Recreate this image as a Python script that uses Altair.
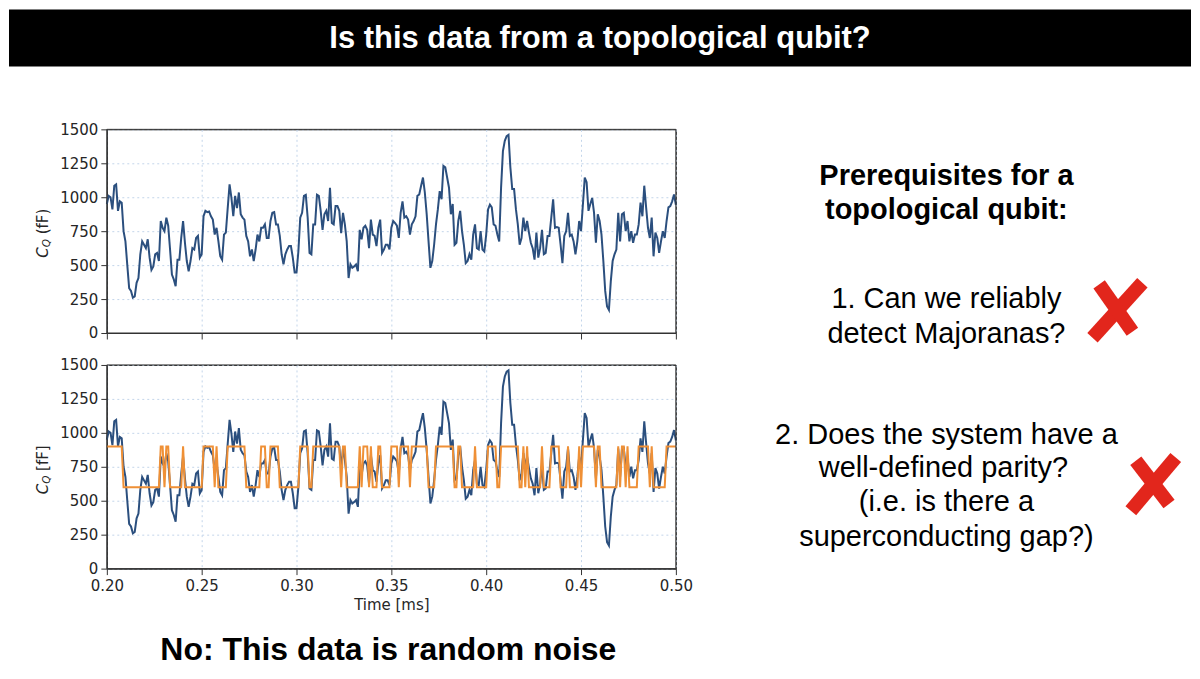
import altair as alt
import pandas as pd

# ---------------- data ----------------
cq_measured = [
    950, 1010, 1000, 910, 1085, 1095, 900, 970, 960, 750,
    675, 500, 330, 310, 260, 270, 370, 405, 580, 675,
    650, 625, 690, 555, 465, 490, 580, 590, 530, 825,
    775, 750, 850, 790, 615, 430, 395, 345, 540, 540,
    700, 825, 665, 530, 455, 530, 625, 615, 700, 715,
    555, 580, 860, 900, 890, 895, 860, 835, 725, 775,
    675, 565, 540, 725, 740, 920, 1095, 995, 860, 1010,
    920, 1035, 875, 850, 835, 715, 675, 565, 615, 530,
    615, 725, 675, 775, 775, 800, 700, 700, 825, 885,
    890, 800, 800, 715, 580, 505, 580, 615, 640, 640,
    555, 445,
    445, 600, 850, 885, 1010, 1018, 850, 590, 580, 800,
    800, 1018, 1010, 900, 760, 875, 900, 825, 1070, 810,
    800, 935, 935, 900, 735, 885, 800, 675, 405, 505,
    480, 490, 505, 455, 760, 690, 775, 790, 760, 625,
    835, 725, 715, 640, 775, 835, 590, 615, 650, 650,
    615, 775, 825, 810, 790, 700, 885, 970, 850, 860,
    835, 725, 800, 825, 860, 1010, 1020, 1085, 1145, 1035,
    875, 675, 480, 530, 650, 800, 910, 1045, 985, 1230,
    1220, 1145, 1070, 875, 950, 650, 665, 825, 900, 750,
    650, 515, 530, 580, 540, 725, 800, 625, 615, 750,
    615, 600, 725, 910,
    945, 925, 800, 790, 725, 675, 1070, 1340, 1415, 1450,
    1460, 1220, 1060, 1060, 910, 800, 650, 700, 850, 750,
    825, 740, 665, 625, 540, 740, 555, 625, 760, 580,
    590, 715, 715, 850, 985, 775, 780, 775, 650, 515,
    715, 750, 885, 715, 725, 675, 580, 675, 825, 750,
    945, 1145, 1110, 900, 950, 995, 885, 665, 875, 825,
    725, 530, 310, 195, 170, 380, 530, 580, 615, 885,
    675, 875, 885, 750, 825, 675, 750, 665, 725, 725,
    800, 960, 860, 1085, 925, 775, 700, 850, 565, 740,
    700, 590, 675, 750, 700, 825, 925, 935, 970, 1020,
    945,
]

cq_two_level = [
    900, 900, 900, 900, 900, 900, 900, 900, 900, 600,
    600, 600, 600, 600, 600, 600, 600, 600, 600, 600,
    600, 600, 600, 600, 600, 600, 600, 600, 600, 900,
    900, 600, 900, 900, 600, 600, 600, 600, 600, 600,
    600, 900, 600, 600, 600, 600, 600, 600, 600, 600,
    600, 600, 900, 900, 900, 900, 900, 900, 600, 900,
    600, 600, 600, 600, 600, 900, 900, 900, 900, 900,
    900, 900, 900, 900, 900, 600, 600, 600, 600, 600,
    600, 600, 600, 900, 900, 900, 600, 600, 900, 900,
    900, 900, 900, 600, 600, 600, 600, 600, 600, 600,
    600, 600, 600, 600, 900, 900, 900, 900, 900, 600,
    600, 900, 900, 900, 900, 900, 900, 900, 900, 900,
    900, 900, 900, 900, 900, 900, 600, 900, 900, 600,
    600, 600, 600, 600, 600, 600, 900, 600, 900, 900,
    900, 600, 900, 600, 600, 600, 900, 900, 600, 600,
    600, 600, 600, 900, 900, 900, 900, 600, 900, 900,
    900, 900, 900, 600, 900, 900, 900, 900, 900, 900,
    900, 900, 900, 600, 600, 600, 600, 900, 900, 900,
    900, 900, 900, 900, 900, 900, 900, 600, 600, 900,
    900, 600, 600, 600, 600, 600, 600, 600, 900, 600,
    600, 600, 600, 600, 600, 900, 900, 900, 900, 900,
    600, 600, 900, 900, 900, 900, 900, 900, 900, 900,
    900, 900, 600, 600, 900, 600, 900, 600, 600, 600,
    600, 600, 600, 600, 900, 600, 600, 600, 600, 900,
    900, 900, 900, 900, 600, 600, 600, 600, 900, 600,
    600, 600, 600, 600, 900, 600, 900, 900, 900, 900,
    900, 900, 900, 600, 900, 900, 600, 600, 600, 600,
    600, 600, 600, 600, 600, 900, 600, 900, 900, 600,
    900, 600, 600, 600, 600, 600, 900, 900, 900, 900,
    900, 900, 600, 900, 600, 600, 600, 600, 600, 600,
    600, 900, 900, 900, 900, 900, 900,
]

x_ticks = [0.20, 0.25, 0.30, 0.35, 0.40, 0.45, 0.50]
y_ticks = [0, 250, 500, 750, 1000, 1250, 1500]

slide_title = "Is this data from a topological qubit?"
heading_lines = ["Prerequisites for a", "topological qubit:"]
q1_lines = ["1. Can we reliably", "detect Majoranas?"]
q2_lines = ["2. Does the system have a", "well-defined parity?",
            "(i.e. is there a", "superconducting gap?)"]
verdict = "No: This data is random noise"

# ---------------- build ----------------
assert len(cq_measured) == len(cq_two_level)
N = len(cq_measured)
t_start, t_end = 0.20, 0.50
time_ms = [t_start + i * (t_end - t_start) / (N - 1) for i in range(N)]
df = pd.DataFrame({"time": time_ms, "cq": cq_measured, "level": cq_two_level})
one = pd.DataFrame({"k": [0]})

FONT = "Liberation Sans"
AXF = "DejaVu Sans"
W, H = 570, 204
BLUE = "#2b4f7e"
ORANGE = "#ef9036"
RED = "#e2261c"
INK = "#262626"

xs = alt.Scale(domain=[0.2, 0.5], nice=False, zero=False)
ys = alt.Scale(domain=[0, 1500], nice=False)


def txt(s, x, y, size, weight="normal", color="black", align="center",
        angle=0, font=FONT, style="normal", baseline="alphabetic"):
    return alt.Chart(one).mark_text(
        text=s, fontSize=size, fontWeight=weight, color=color, align=align,
        angle=angle, font=font, fontStyle=style, baseline=baseline
    ).encode(x=alt.value(x), y=alt.value(y))


def brush(x1, y1, x2, y2):
    return alt.Chart(one).mark_rule(color=RED, strokeWidth=14, strokeCap="butt").encode(
        x=alt.value(x1), y=alt.value(y1), x2=alt.value(x2), y2=alt.value(y2))


def frame():
    return alt.Chart(one).mark_rect(fillOpacity=0, stroke="#333333", strokeWidth=1).encode(
        x=alt.value(0), x2=alt.value(W), y=alt.value(0), y2=alt.value(H))


def ytitle(y_start, bracket):
    return [
        txt("C", -63.5, y_start, 15, angle=270, font=AXF, style="italic",
            align="left", baseline="middle", color=INK),
        txt("Q", -60, y_start - 10.5, 10.5, angle=270, font=AXF, style="italic",
            align="left", baseline="middle", color=INK),
        txt(bracket, -63.5, y_start - 23.5, 15, angle=270, font=AXF,
            align="left", baseline="middle", color=INK),
    ]


def y_axis():
    return alt.Axis(values=y_ticks, title=None, tickSize=6, labelPadding=3,
                    format="d", labelOverlap=False, labelFontSize=15)


def x_axis_bottom():
    return alt.Axis(values=x_ticks, format=".2f", title="Time [ms]",
                    tickSize=6, labelPadding=4, titlePadding=4,
                    labelFlush=False, labelOverlap=False, labelFontSize=15)


top_line = alt.Chart(df).mark_line(color=BLUE, strokeWidth=2).encode(
    x=alt.X("time:Q", scale=xs,
            axis=alt.Axis(values=x_ticks, labels=False, title=None, tickSize=6)),
    y=alt.Y("cq:Q", scale=ys, axis=y_axis()),
)

title_bar = alt.Chart(one).mark_rect(color="black").encode(
    x=alt.value(-98), x2=alt.value(1086), y=alt.value(-120), y2=alt.value(-63))

right_layers = [
    txt(heading_lines[0], 841, 55.3, 29, weight="bold"),
    txt(heading_lines[1], 841, 89.3, 29, weight="bold"),
    txt(q1_lines[0], 841, 178.7, 29),
    txt(q1_lines[1], 841, 213.7, 29),
    txt(q2_lines[0], 841, 315.3, 29),
    txt(q2_lines[1], 838, 348.7, 29),
    txt(q2_lines[2], 841, 382, 29),
    txt(q2_lines[3], 841, 417, 29),
    brush(1037.3, 153.7, 987.3, 208.7),
    brush(994, 155.3, 1027.3, 202.7),
    brush(1070.7, 328.7, 1025.7, 382),
    brush(1030.7, 332, 1064, 375.3),
]

top = alt.layer(
    top_line,
    frame(),
    title_bar,
    txt(slide_title, 494, -81.3, 31, weight="bold", color="white"),
    *ytitle(128.6, "(fF)"),
    *right_layers,
).properties(width=W, height=H)

bot_blue = alt.Chart(df).mark_line(color=BLUE, strokeWidth=2).encode(
    x=alt.X("time:Q", scale=xs, axis=x_axis_bottom()),
    y=alt.Y("cq:Q", scale=ys, axis=y_axis()),
)
bot_orange = alt.Chart(df).mark_line(color=ORANGE, strokeWidth=2).encode(
    x=alt.X("time:Q", scale=xs, axis=x_axis_bottom()),
    y=alt.Y("level:Q", scale=ys, axis=y_axis()),
)

bottom = alt.layer(
    bot_blue,
    bot_orange,
    frame(),
    *ytitle(129.6, "[fF]"),
    txt(verdict, 282, 296, 32, weight="bold"),
).properties(width=W, height=H)

chart = alt.vconcat(top, bottom, spacing=32, bounds="flush").properties(
    padding=0, background="white"
).configure_axis(
    labelFont=AXF, labelFontSize=15, labelColor=INK,
    tickColor="#333333", domainColor="#333333",
    gridColor="#c3d5ea", gridDash=[2, 3], gridWidth=1,
    titleFont=AXF, titleFontSize=15, titleFontWeight="normal", titleColor=INK,
).configure_view(stroke="#333333", strokeWidth=1)

chart.save("out.html", embed_options={"renderer": "svg", "actions": False})
